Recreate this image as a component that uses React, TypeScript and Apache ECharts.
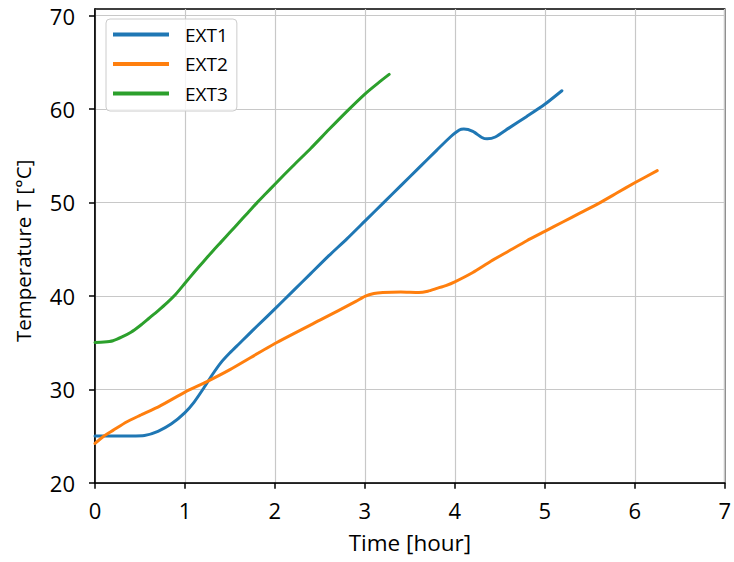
import React, { useEffect, useRef } from "react";
import * as echarts from "echarts";

// Time [hour] / temperature [°C] samples for each extruder channel
const ext1Time = [0, 0.2, 0.4, 0.55, 0.7, 0.85, 1.0, 1.1, 1.2, 1.3, 1.4, 1.5, 1.6, 1.7, 1.8, 2.0, 2.2, 2.4, 2.6, 2.8, 3.0, 3.2, 3.4, 3.6, 3.8, 3.95, 4.05, 4.1, 4.2, 4.3, 4.36, 4.45, 4.6, 4.8, 5.0, 5.19];
const ext1Temp = [25.0, 25.0, 25.0, 25.05, 25.5, 26.3, 27.5, 28.6, 30.0, 31.5, 32.85, 33.9, 34.85, 35.8, 36.75, 38.6, 40.5, 42.4, 44.3, 46.1, 48.0, 49.9, 51.8, 53.7, 55.6, 57.0, 57.75, 57.85, 57.6, 56.95, 56.8, 57.0, 57.95, 59.2, 60.5, 61.95];

const ext2Time = [0, 0.1, 0.2, 0.35, 0.5, 0.72, 1.0, 1.24, 1.5, 2.0, 2.5, 2.9, 3.0, 3.1, 3.2, 3.4, 3.6, 3.7, 3.8, 3.9, 4.0, 4.2, 4.4, 4.6, 4.8, 5.0, 5.2, 5.4, 5.6, 5.8, 6.0, 6.25];
const ext2Temp = [24.2, 25.0, 25.6, 26.5, 27.2, 28.2, 29.7, 30.8, 32.1, 34.9, 37.4, 39.4, 39.95, 40.25, 40.35, 40.4, 40.35, 40.5, 40.8, 41.1, 41.5, 42.5, 43.7, 44.8, 45.9, 46.9, 47.9, 48.9, 49.9, 51.0, 52.1, 53.4];

const ext3Time = [0, 0.1, 0.2, 0.3, 0.4, 0.5, 0.6, 0.7, 0.8, 0.9, 1.0, 1.1, 1.2, 1.3, 1.4, 1.5, 1.6, 1.7, 1.8, 1.9, 2.0, 2.2, 2.4, 2.6, 2.8, 3.0, 3.15, 3.27];
const ext3Temp = [35.0, 35.05, 35.2, 35.6, 36.1, 36.8, 37.6, 38.4, 39.25, 40.2, 41.35, 42.5, 43.6, 44.7, 45.75, 46.8, 47.85, 48.9, 49.95, 50.95, 51.95, 53.9, 55.8, 57.8, 59.75, 61.6, 62.8, 63.7];

const seriesNames = ["EXT1", "EXT2", "EXT3"];
const seriesColors = ["#1f77b4", "#ff7f0e", "#2ca02c"];

const xTicks = [0, 1, 2, 3, 4, 5, 6, 7];
const yTicks = [20, 30, 40, 50, 60, 70];

const xAxisTitle = "Time [hour]";
const yAxisTitle = "Temperature T [°C]";

const pairs = (xs: number[], ys: number[]) => xs.map((x, i) => [x, ys[i]]);

const FONT = "'Open Sans', 'Noto Sans', sans-serif";

export default function App() {
  const ref = useRef<HTMLDivElement>(null);

  useEffect(() => {
    if (!ref.current) return;
    const chart = echarts.init(ref.current, undefined, { renderer: "svg" });
    const data = [pairs(ext1Time, ext1Temp), pairs(ext2Time, ext2Temp), pairs(ext3Time, ext3Temp)];

    chart.setOption({
      animation: false,
      backgroundColor: "#ffffff",
      textStyle: { fontFamily: FONT },
      grid: {
        left: 95,
        right: 5.3,
        top: 9,
        bottom: 79.3,
        show: true,
        borderColor: "#000",
        borderWidth: 1.5,
        backgroundColor: "transparent",
      },
      legend: {
        orient: "vertical",
        left: 106,
        top: 19,
        padding: [6, 9, 8, 7],
        itemWidth: 56,
        itemHeight: 4,
        itemGap: 10.5,
        icon: "rect",
        backgroundColor: "rgba(255,255,255,0.8)",
        borderColor: "#cccccc",
        borderWidth: 1,
        borderRadius: 4,
        data: seriesNames,
        textStyle: { fontFamily: FONT, fontSize: 19, color: "#000", padding: [0, 0, 0, 11] },
      },
      xAxis: {
        type: "value",
        min: 0,
        max: 7,
        interval: 1,
        name: xAxisTitle,
        nameLocation: "middle",
        nameGap: 48,
        nameTextStyle: { fontFamily: FONT, fontSize: 22.5, color: "#000" },
        axisLine: { show: true, lineStyle: { color: "#000", width: 1.5 } },
        axisTick: { show: true, inside: false, length: 6, lineStyle: { color: "#000", width: 1.5 }, customValues: xTicks },
        axisLabel: { fontFamily: FONT, fontSize: 22, color: "#000", margin: 16, customValues: xTicks },
        splitLine: { show: true, lineStyle: { color: "#c8c8c8", width: 1.2 } },
      },
      yAxis: {
        type: "value",
        min: 20,
        max: 70.7,
        interval: 10,
        name: yAxisTitle,
        nameLocation: "middle",
        nameGap: 62,
        nameTextStyle: { fontFamily: FONT, fontSize: 20.5, color: "#000", padding: [0, 10, 0, 0] },
        axisLine: { show: true, lineStyle: { color: "#000", width: 1.5 } },
        axisTick: { show: true, inside: false, length: 6, lineStyle: { color: "#000", width: 1.5 }, customValues: yTicks },
        axisLabel: {
          fontFamily: FONT,
          fontSize: 22,
          color: "#000",
          margin: 20,
          customValues: yTicks,
        },
        splitLine: { show: true, lineStyle: { color: "#c8c8c8", width: 1.2 } },
      },
      series: seriesNames.map((name, i) => ({
        name,
        type: "line",
        data: data[i],
        showSymbol: false,
        symbol: "none",
        smooth: 0.2,
        color: seriesColors[i],
        lineStyle: { color: seriesColors[i], width: 3, cap: "round", join: "round" },
        z: 3 + i,
      })),
    });

    return () => chart.dispose();
  }, []);

  return <div ref={ref} style={{ width: 734, height: 562, position: "absolute", left: 0, top: 0 }} />;
}
